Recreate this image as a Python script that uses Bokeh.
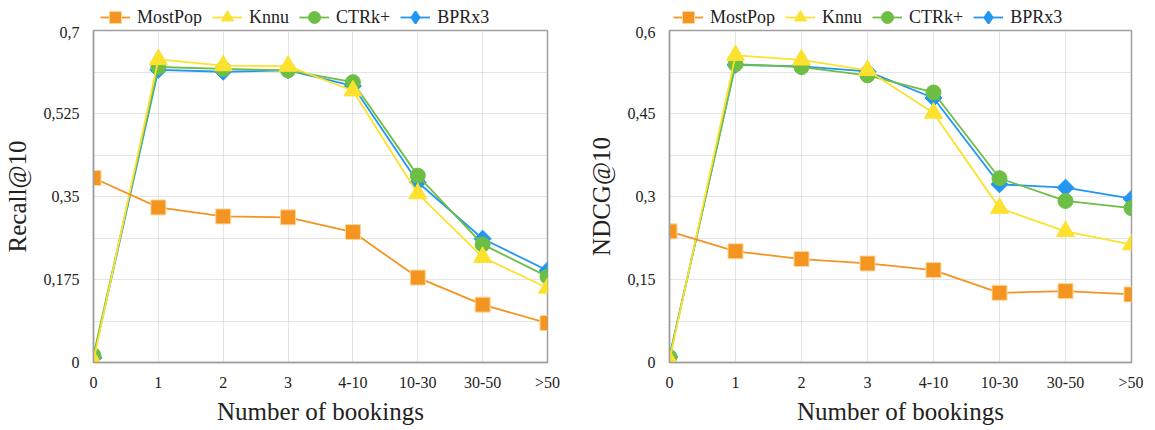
from bokeh.plotting import figure
from bokeh.layouts import row, column
from bokeh.models import FixedTicker, Legend, LegendItem, Range1d
from bokeh.embed import file_html
from bokeh.resources import INLINE
import math

categories = ["0", "1", "2", "3", "4-10", "10-30", "30-50", ">50"]
methods = ["MostPop", "Knnu", "CTRk+", "BPRx3"]

recall_mostpop = [0.389, 0.327, 0.308, 0.306, 0.275, 0.179, 0.122, 0.083]
recall_knnu = [0.004, 0.639, 0.626, 0.625, 0.573, 0.356, 0.222, 0.157]
recall_ctrk = [0.015, 0.623, 0.619, 0.616, 0.591, 0.394, 0.249, 0.181]
recall_bprx3 = [0.010, 0.617, 0.613, 0.616, 0.583, 0.380, 0.261, 0.194]

ndcg_mostpop = [0.237, 0.201, 0.187, 0.179, 0.167, 0.126, 0.129, 0.123]
ndcg_knnu = [0.004, 0.555, 0.547, 0.528, 0.451, 0.279, 0.237, 0.213]
ndcg_ctrk = [0.010, 0.539, 0.534, 0.519, 0.488, 0.333, 0.292, 0.279]
ndcg_bprx3 = [0.010, 0.538, 0.535, 0.526, 0.478, 0.322, 0.316, 0.296]

recall_ticks = [0, 0.175, 0.35, 0.525, 0.7]
recall_labels = ["0", "0,175", "0,35", "0,525", "0,7"]
ndcg_ticks = [0, 0.15, 0.3, 0.45, 0.6]
ndcg_labels = ["0", "0,15", "0,3", "0,45", "0,6"]

colors = {"MostPop": "#F39520", "Knnu": "#FCE22E", "CTRk+": "#6DBE45", "BPRx3": "#2196F3"}
FONT = "Liberation Serif"
LEG_H = 26
MAIN_H = 404
TOP = 4
BOTTOM = 68


def add_series(p, m, xs, ys, in_legend=False):
    c = colors[m]
    ln = p.line(xs, ys, line_color=c, line_width=1.8)
    if m == "MostPop":
        mk = p.scatter(xs, ys, marker="square", size=15, fill_color=c, line_color="#FFD79A", line_width=1)
    elif m == "Knnu":
        mk = p.scatter(xs, ys, marker="triangle", size=18, fill_color=c, line_color=c)
    elif m == "CTRk+":
        mk = p.scatter(xs, ys, marker="circle", size=15, fill_color=c, line_color=c)
    elif in_legend:
        mk = p.scatter(xs, ys, marker="diamond", size=16, fill_color=c, line_color=c, line_width=2)
    else:
        mk = p.scatter(xs, ys, marker="square", size=12, angle=math.pi / 4, fill_color=c, line_color=c)
    return [ln, mk]


def make_legend(series, width, legend_x):
    # legend strip: the series are drawn outside its visible range, only the legend shows
    lp = figure(width=width, height=LEG_H, x_range=Range1d(0, 1), y_range=Range1d(10, 11),
                output_backend="svg", toolbar_location=None, x_axis_type=None, y_axis_type=None,
                min_border=0, outline_line_color=None)
    lp.grid.visible = False
    xs = list(range(len(categories)))
    items = []
    for m in methods:
        rs = add_series(lp, m, xs, series[m], in_legend=True)
        items.append(LegendItem(label=m, renderers=rs))
    legend = Legend(items=items, orientation="horizontal", location=(legend_x, -6),
                    label_text_font=FONT, label_text_font_size="18px", label_text_color="#222222",
                    glyph_width=30, glyph_height=30, label_standoff=7, spacing=10,
                    padding=0, margin=0, border_line_color=None, background_fill_alpha=0)
    lp.add_layout(legend, "center")
    return lp


def make(series, ymax, ticks, tick_labels, ylabel, width, border_left, border_right):
    p = figure(width=width, height=MAIN_H, x_range=(0, len(categories) - 1), y_range=(0, ymax),
               output_backend="svg", toolbar_location=None,
               min_border_left=border_left, min_border_right=border_right,
               min_border_top=TOP, min_border_bottom=BOTTOM)
    xs = list(range(len(categories)))
    for m in ["BPRx3", "CTRk+", "Knnu", "MostPop"]:
        add_series(p, m, xs, series[m])

    p.xaxis.ticker = FixedTicker(ticks=xs)
    p.xaxis.major_label_overrides = {i: c for i, c in enumerate(categories)}
    p.yaxis.ticker = FixedTicker(ticks=ticks)
    p.yaxis.major_label_overrides = {t: l for t, l in zip(ticks, tick_labels)}
    step = ticks[1] / 2
    p.ygrid.ticker = FixedTicker(ticks=[i * step for i in range(1, 2 * (len(ticks) - 1))])
    p.xgrid.ticker = FixedTicker(ticks=xs)
    for g in (p.xgrid, p.ygrid):
        g.grid_line_color = "#C8C8C8"
        g.grid_line_dash = "1 1"
        g.grid_line_width = 1
    for ax in (p.xaxis, p.yaxis):
        ax.axis_line_color = "#A0A0A0"
        ax.axis_line_width = 1.5
        ax.major_tick_line_color = None
        ax.minor_tick_line_color = None
        ax.major_label_text_font = FONT
        ax.major_label_text_font_size = "16px"
        ax.major_label_text_color = "#222222"
        ax.axis_label_text_font = FONT
        ax.axis_label_text_font_size = "25px"
        ax.axis_label_text_font_style = "normal"
        ax.axis_label_text_color = "#222222"
    p.xaxis.major_label_standoff = 5
    p.yaxis.major_label_standoff = 8
    p.xaxis.axis_label = "Number of bookings"
    p.yaxis.axis_label = ylabel
    p.xaxis.axis_label_standoff = 4
    p.yaxis.axis_label_standoff = 10
    p.outline_line_color = "#A0A0A0"
    p.outline_line_width = 1.5
    p.background_fill_color = "white"
    return p


recall = {"MostPop": recall_mostpop, "Knnu": recall_knnu, "CTRk+": recall_ctrk, "BPRx3": recall_bprx3}
ndcg = {"MostPop": ndcg_mostpop, "Knnu": ndcg_knnu, "CTRk+": ndcg_ctrk, "BPRx3": ndcg_bprx3}

left = make(recall, 0.7, recall_ticks, recall_labels, "Recall@10", 572, 85, 25)
right = make(ndcg, 0.6, ndcg_ticks, ndcg_labels, "NDCG@10", 571, 97, 12)
leg_left = make_legend(recall, 572, 7)
leg_right = make_legend(ndcg, 571, 4)

layout = row(column(leg_left, left), column(leg_right, right))
open("out.html", "w").write(file_html(layout, INLINE))
